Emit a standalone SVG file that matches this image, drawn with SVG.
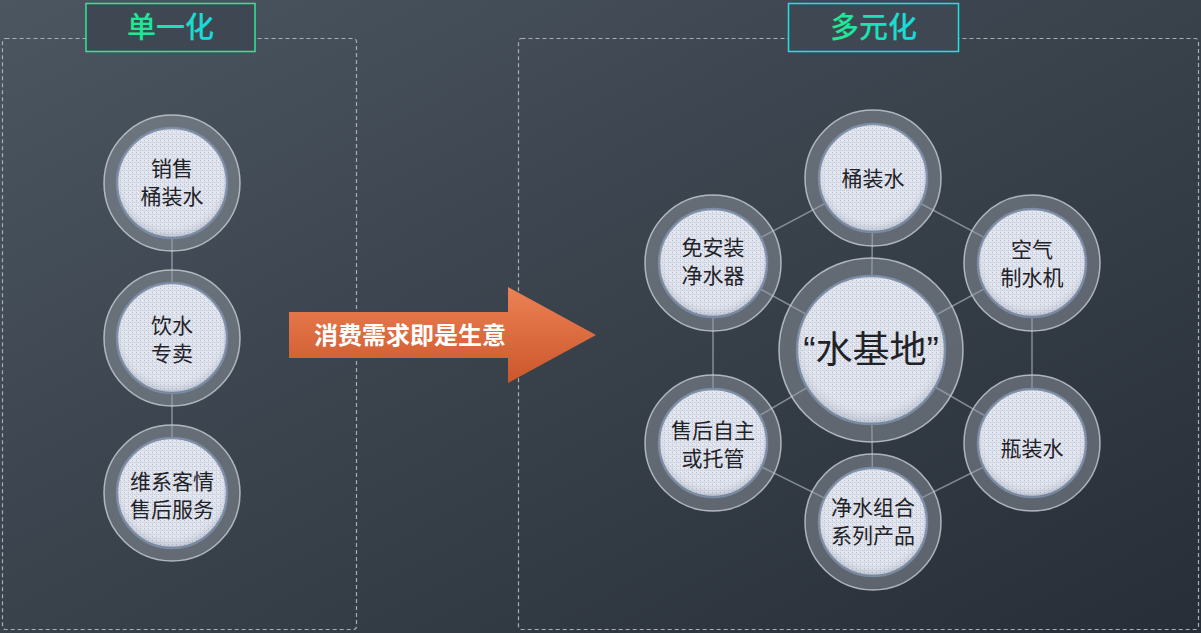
<svg xmlns="http://www.w3.org/2000/svg" width="1201" height="633" viewBox="0 0 1201 633">
<defs>
<linearGradient id="bg" x1="0" y1="0" x2="1" y2="1">
<stop offset="0" stop-color="#4b5661"/>
<stop offset="0.5" stop-color="#39414b"/>
<stop offset="1" stop-color="#272e37"/>
</linearGradient>
<linearGradient id="tg" x1="0" y1="0" x2="1" y2="0">
<stop offset="0" stop-color="#22ea88"/>
<stop offset="1" stop-color="#16d8e6"/>
</linearGradient>
<linearGradient id="ag" x1="0" y1="0" x2="0" y2="1">
<stop offset="0" stop-color="#ec8255"/>
<stop offset="1" stop-color="#cc562b"/>
</linearGradient>
<pattern id="tex" width="4" height="4" patternUnits="userSpaceOnUse">
<rect width="4" height="4" fill="#dfe3ed"/>
<rect x="0" y="0" width="1" height="1" fill="#b9c1d2"/>
<rect x="2" y="2" width="1" height="1" fill="#bfc6d6"/>
<rect x="2" y="0" width="1" height="1" fill="#f0f2f7"/>
<rect x="0" y="2" width="1" height="1" fill="#cbc9dc"/>
<rect x="1" y="3" width="1" height="1" fill="#eceef5"/>
</pattern>
<radialGradient id="shade" cx="0.5" cy="0.45" r="0.55">
<stop offset="0.75" stop-color="#ffffff" stop-opacity="0"/>
<stop offset="1" stop-color="#6f7c92" stop-opacity="0.35"/>
</radialGradient>
</defs>
<style>
.panel{fill:none;stroke:#a7aeb6;stroke-width:1.2;stroke-dasharray:4 3}
.tbox{fill:#3f4852;stroke-width:1.5}
.title{font-family:"Noto Sans CJK SC","Noto Sans",sans-serif;font-size:29px;font-weight:500;fill:url(#tg);text-anchor:middle}
.ring{fill:#9aa0a8;fill-opacity:0.45;stroke:#c9ced4;stroke-opacity:0.8;stroke-width:1.5}
.core{fill:url(#tex);stroke:#7a8ba4;stroke-width:2.5}
.shade{fill:url(#shade)}
.lbl{font-family:"Noto Sans CJK SC","Noto Sans",sans-serif;font-size:21px;fill:#1f2226;text-anchor:middle}
.con{stroke:#b9bfc6;stroke-opacity:0.6;stroke-width:1.5;fill:none}
</style>
<rect width="1201" height="633" fill="url(#bg)"/>

<g id="panel-left">
<rect class="panel" x="2.5" y="38.5" width="354" height="591" rx="3"/>
<rect class="tbox" x="86" y="3.5" width="169" height="48" stroke="#2ee79a"/>
<text class="title" x="170.5" y="38">单一化</text>
</g>
<g id="panel-right">
<rect class="panel" x="518.5" y="38.5" width="680" height="591" rx="3"/>
<rect class="tbox" x="788.5" y="3.5" width="170" height="48" fill="#333b45" stroke="#1fe2e2"/>
<text class="title" x="873.5" y="38">多元化</text>
</g>

<g id="connectors">
<line class="con" x1="172" y1="183" x2="172" y2="493"/>
<polygon class="con" points="873,178 1032,263 1032,443 873,522 713,443 713,263"/>
<line class="con" x1="871" y1="350" x2="873" y2="178"/>
<line class="con" x1="871" y1="350" x2="1032" y2="263"/>
<line class="con" x1="871" y1="350" x2="1032" y2="443"/>
<line class="con" x1="871" y1="350" x2="873" y2="522"/>
<line class="con" x1="871" y1="350" x2="713" y2="443"/>
<line class="con" x1="871" y1="350" x2="713" y2="263"/>
</g>

<g id="arrow">
<polygon points="289,312 508,312 508,287 596,335 508,383 508,358 289,358" fill="url(#ag)"/>
<text x="410" y="344" font-family="'Noto Sans CJK SC','Noto Sans',sans-serif" font-size="24" font-weight="bold" fill="#ffffff" text-anchor="middle">消费需求即是生意</text>
</g>

<g id="n-l1">
<circle class="ring" cx="172" cy="183" r="68"/>
<circle class="core" cx="172" cy="183" r="55"/>
<circle class="shade" cx="172" cy="183" r="55"/>
<text class="lbl" x="172" y="176">销售<tspan x="172" dy="28">桶装水</tspan></text>
</g>
<g id="n-l2">
<circle class="ring" cx="172" cy="338" r="68"/>
<circle class="core" cx="172" cy="338" r="55"/>
<circle class="shade" cx="172" cy="338" r="55"/>
<text class="lbl" x="172" y="333">饮水<tspan x="172" dy="28">专卖</tspan></text>
</g>
<g id="n-l3">
<circle class="ring" cx="172" cy="493" r="68"/>
<circle class="core" cx="172" cy="493" r="55"/>
<circle class="shade" cx="172" cy="493" r="55"/>
<text class="lbl" x="172" y="489">维系客情<tspan x="172" dy="28">售后服务</tspan></text>
</g>

<g id="n-center">
<circle class="ring" cx="871" cy="350" r="92"/>
<circle class="core" cx="871" cy="350" r="74"/>
<circle class="shade" cx="871" cy="350" r="74"/>
<text x="871" y="363" font-family="'Noto Sans CJK SC','Noto Sans',sans-serif" font-size="37" fill="#1f2226" text-anchor="middle"><tspan font-family="'Liberation Sans',sans-serif">“</tspan>水基地<tspan font-family="'Liberation Sans',sans-serif">”</tspan></text>
</g>
<g id="n-top">
<circle class="ring" cx="873" cy="178" r="68"/>
<circle class="core" cx="873" cy="178" r="54"/>
<circle class="shade" cx="873" cy="178" r="54"/>
<text class="lbl" x="873" y="186">桶装水</text>
</g>
<g id="n-ur">
<circle class="ring" cx="1032" cy="263" r="68"/>
<circle class="core" cx="1032" cy="263" r="54"/>
<circle class="shade" cx="1032" cy="263" r="54"/>
<text class="lbl" x="1032" y="257">空气<tspan x="1032" dy="28">制水机</tspan></text>
</g>
<g id="n-lr">
<circle class="ring" cx="1032" cy="443" r="68"/>
<circle class="core" cx="1032" cy="443" r="54"/>
<circle class="shade" cx="1032" cy="443" r="54"/>
<text class="lbl" x="1032" y="456">瓶装水</text>
</g>
<g id="n-bottom">
<circle class="ring" cx="873" cy="522" r="68"/>
<circle class="core" cx="873" cy="522" r="54"/>
<circle class="shade" cx="873" cy="522" r="54"/>
<text class="lbl" x="873" y="515">净水组合<tspan x="873" dy="28">系列产品</tspan></text>
</g>
<g id="n-ll">
<circle class="ring" cx="713" cy="443" r="68"/>
<circle class="core" cx="713" cy="443" r="54"/>
<circle class="shade" cx="713" cy="443" r="54"/>
<text class="lbl" x="713" y="438">售后自主<tspan x="713" dy="28">或托管</tspan></text>
</g>
<g id="n-ul">
<circle class="ring" cx="713" cy="263" r="68"/>
<circle class="core" cx="713" cy="263" r="54"/>
<circle class="shade" cx="713" cy="263" r="54"/>
<text class="lbl" x="713" y="255">免安装<tspan x="713" dy="28">净水器</tspan></text>
</g>
</svg>
